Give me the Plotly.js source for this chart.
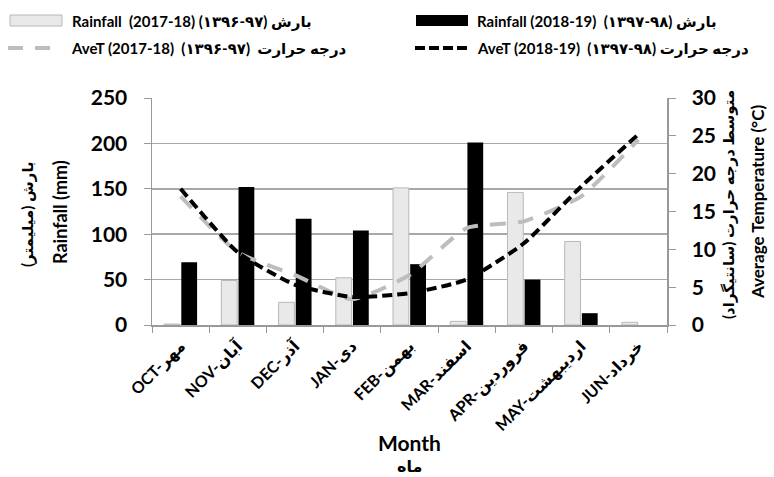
<!DOCTYPE html>
<html><head><meta charset="utf-8">
<script src="https://cdn.plot.ly/plotly-3.0.1.min.js"></script>
<style>body{margin:0;background:#fff}#c{width:774px;height:477px}</style>
</head><body><div id="c"></div>
<script>
const months = ["OCT-مهر","NOV-آبان","DEC-آذر","JAN-دی","FEB-بهمن","MAR-اسفند","APR-فروردین","MAY-اردیبهشت","JUN-خرداد"];
const rain1718 = [1, 49, 25, 52, 151, 4, 146, 92, 3];
const rain1819 = [69, 152, 117, 104, 67, 201, 50, 13, 0];
const temp1718 = [17, 9.6, 6.6, 3.4, 6.6, 12.8, 13.7, 17, 24.5];
const temp1819 = [18, 9.6, 5.3, 3.7, 4.2, 6.0, 10.8, 18.3, 25.2];

const legendNames = [
  "Rainfall  (2017-18) (۱۳۹۶-۹۷) بارش",
  "Rainfall (2018-19)  (۱۳۹۷-۹۸) بارش",
  "AveT (2017-18)  (۱۳۹۶-۹۷)  درجه حرارت",
  "AveT (2018-19)  (۱۳۹۷-۹۸) درجه حرارت"
];

const FONT = "Lato, 'DejaVu Sans', sans-serif";
const L = 152, R = 667, T = 98, B = 325;
const px = x => (x - L) / (R - L);
const py = y => (B - y) / (B - T);

const traces = [
  {type:"bar", x:months, y:rain1718, name:legendNames[0], marker:{color:"#e9e9e9", line:{color:"#b8b8b8", width:1}}},
  {type:"bar", x:months, y:rain1819, name:legendNames[1], marker:{color:"#000", line:{color:"#000", width:0}}},
  {type:"scatter", mode:"lines", x:months, y:temp1718, yaxis:"y2", name:legendNames[2], line:{color:"#bdbdbd", width:4, dash:"16px,12px", shape:"spline", smoothing:0.5}},
  {type:"scatter", mode:"lines", x:months, y:temp1819, yaxis:"y2", name:legendNames[3], line:{color:"#000", width:4, dash:"10px,5px", shape:"spline", smoothing:0.5}}
];

const tf = {family:FONT, size:15, color:"#000", weight:700};
const annotations = [
  {text:legendNames[0], x:px(70), y:py(21)},
  {text:legendNames[1], x:px(475), y:py(21)},
  {text:legendNames[2], x:px(69), y:py(48)},
  {text:legendNames[3], x:px(475), y:py(48)}
].map(a => Object.assign({xref:"paper", yref:"paper", xanchor:"left", yanchor:"middle", showarrow:false, font:tf}, a));

annotations.push(
  {text:"بارش (میلیمتر)\u200F", x:px(27), y:py(214), textangle:-90, font:{family:FONT, size:15, color:"#000", weight:700}},
  {text:"Rainfall (mm)", x:px(60), y:py(212), textangle:-90, font:{family:FONT, size:18, color:"#000", weight:700}},
  {text:"متوسط درجه حرارت (سانتیگراد)\u200F", x:px(728), y:py(205), textangle:-90, font:{family:FONT, size:15, color:"#000", weight:700}},
  {text:"Average Temperature (°C)", x:px(757), y:py(202), textangle:-90, font:{family:FONT, size:17, color:"#000", weight:700}},
  {text:"Month", x:px(409), y:py(442), font:{family:FONT, size:21, color:"#000", weight:700}},
  {text:"ماه", x:px(409), y:py(465), font:{family:FONT, size:16, color:"#000", weight:700}}
);
annotations.forEach(a => { if (!a.xref) Object.assign(a, {xref:"paper", yref:"paper", xanchor:"center", yanchor:"middle", showarrow:false}); });

const shapes = [
  {type:"rect", xref:"paper", yref:"paper", x0:px(10), x1:px(62), y0:py(26), y1:py(15), fillcolor:"#e9e9e9", line:{color:"#b8b8b8", width:1}},
  {type:"rect", xref:"paper", yref:"paper", x0:px(416), x1:px(468), y0:py(26), y1:py(15), fillcolor:"#000", line:{width:0}},
  {type:"line", xref:"paper", yref:"paper", x0:px(8), x1:px(51), y0:py(48), y1:py(48), line:{color:"#bdbdbd", width:4, dash:"15px,12px"}},
  {type:"line", xref:"paper", yref:"paper", x0:px(415), x1:px(469), y0:py(48), y1:py(48), line:{color:"#000", width:4, dash:"10px,4px"}}
];

const layout = {
  width:774, height:477,
  margin:{l:L, r:774-R, t:T, b:477-B},
  paper_bgcolor:"#fff", plot_bgcolor:"#fff",
  showlegend:false,
  barmode:"group", bargap:0.4, bargroupgap:0.08,
  font:{family:FONT, color:"#000"},
  xaxis:{type:"category", tickangle:-45, tickson:"boundaries", ticks:"outside", ticklen:6, tickcolor:"#999",
         showline:true, linecolor:"#999", linewidth:1.5, showgrid:false, ticklabelstandoff:4,
         tickfont:{family:FONT, size:16, color:"#000", weight:700}},
  yaxis:{range:[0,250], dtick:50, ticks:"outside", ticklen:7, tickcolor:"#999", showline:true, linecolor:"#999", linewidth:1.5,
         showgrid:true, gridcolor:"#a8a8a8", gridwidth:1.5, zeroline:false, ticklabelstandoff:12,
         tickfont:{family:FONT, size:21, color:"#000", weight:700}},
  yaxis2:{range:[0,30], dtick:5, overlaying:"y", side:"right", ticks:"outside", ticklen:7, tickcolor:"#999",
          showline:true, linecolor:"#999", linewidth:1.5, showgrid:false, zeroline:false, ticklabelstandoff:12,
          tickfont:{family:FONT, size:21, color:"#000", weight:700}},
  annotations, shapes
};

Plotly.newPlot("c", traces, layout, {displayModeBar:false, staticPlot:true});
</script></body></html>
